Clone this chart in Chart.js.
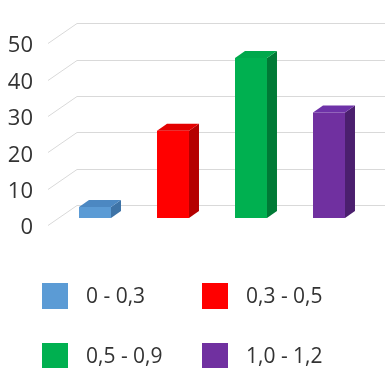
<!DOCTYPE html>
<html>
<head>
<meta charset="utf-8">
<script src="https://cdn.jsdelivr.net/npm/chart.js@4/dist/chart.umd.min.js"></script>
<style>
  html, body { margin: 0; padding: 0; background: #fff; overflow: hidden; }
  canvas { display: block; }
</style>
</head>
<body>
<canvas id="c" width="385" height="368"></canvas>
<script>
// Counts per class interval
const categories = ['0 - 0,3', '0,3 - 0,5', '0,5 - 0,9', '1,0 - 1,2'];
const counts = [3, 24, 44, 29];
const yTicks = [0, 10, 20, 30, 40, 50];

// Face colours of each column (front / right side / top)
const frontColors = ['#5b9bd5', '#ff0000', '#00b050', '#7030a0'];
const sideColors  = ['#3e73a6', '#b50000', '#007a36', '#4b1f6e'];
const topColors   = ['#4c88c2', '#e30000', '#00a84c', '#6e32a8'];

const TEXT_COLOR = '#333333';
const FONT_FAMILY = '"Open Sans", "DejaVu Sans", sans-serif';

// Oblique projection offsets (pixels)
const DEPTH = { x: 10, y: -7 };   // column depth
const WALL  = { x: 21, y: -13 };  // back wall, relative to the column front plane
const EDGE  = { x: -8, y: 7 };    // front edge of the side wall

// Back wall and side wall grid lines, drawn behind the columns
const wallGrid = {
  id: 'wallGrid',
  beforeDatasetsDraw(chart) {
    const { ctx, chartArea, scales: { y } } = chart;
    ctx.save();
    ctx.strokeStyle = '#d9d9d9';
    ctx.lineWidth = 1;
    yTicks.forEach(v => {
      const py = Math.round(y.getPixelForValue(v)) + 0.5;
      ctx.beginPath();
      ctx.moveTo(chartArea.left + EDGE.x, py + EDGE.y);
      ctx.lineTo(chartArea.left + WALL.x, py + WALL.y);
      ctx.lineTo(chart.width, py + WALL.y);
      ctx.stroke();
    });
    ctx.restore();
  }
};

// Side and top faces that give each column its depth
const columnDepth = {
  id: 'columnDepth',
  afterDatasetsDraw(chart) {
    const { ctx } = chart;
    const meta = chart.getDatasetMeta(0);
    ctx.save();
    meta.data.forEach((bar, i) => {
      const { x, y, base, width } = bar.getProps(['x', 'y', 'base', 'width'], true);
      const l = x - width / 2, r = x + width / 2;
      // right side
      ctx.fillStyle = sideColors[i];
      ctx.beginPath();
      ctx.moveTo(r, y);
      ctx.lineTo(r + DEPTH.x, y + DEPTH.y);
      ctx.lineTo(r + DEPTH.x, base + DEPTH.y);
      ctx.lineTo(r, base);
      ctx.closePath();
      ctx.fill();
      // top
      ctx.fillStyle = topColors[i];
      ctx.beginPath();
      ctx.moveTo(l, y);
      ctx.lineTo(l + DEPTH.x, y + DEPTH.y);
      ctx.lineTo(r + DEPTH.x, y + DEPTH.y);
      ctx.lineTo(r, y);
      ctx.closePath();
      ctx.fill();
    });
    ctx.restore();
  }
};

// Two-column legend below the plot
const gridLegend = {
  id: 'gridLegend',
  afterDraw(chart) {
    const { ctx } = chart;
    const box = 26, colStep = 160, rowStep = 60, x0 = 42, y0 = 283, gap = 18;
    ctx.save();
    ctx.font = '21px ' + FONT_FAMILY;
    ctx.textBaseline = 'middle';
    ctx.textAlign = 'left';
    categories.forEach((label, i) => {
      const bx = x0 + (i % 2) * colStep;
      const by = y0 + Math.floor(i / 2) * rowStep;
      ctx.fillStyle = frontColors[i];
      ctx.fillRect(bx, by, box, box);
      ctx.fillStyle = TEXT_COLOR;
      ctx.fillText(label, bx + box + gap, by + box / 2 + 1);
    });
    ctx.restore();
  }
};

new Chart(document.getElementById('c'), {
  type: 'bar',
  data: {
    labels: categories,
    datasets: [{
      data: counts,
      backgroundColor: frontColors,
      borderWidth: 0,
      barPercentage: 0.41,
      categoryPercentage: 1
    }]
  },
  options: {
    responsive: false,
    animation: false,
    layout: { padding: { top: 29, right: 17, bottom: 150, left: 0 } },
    plugins: { legend: { display: false }, tooltip: { enabled: false } },
    scales: {
      x: { display: false },
      y: {
        min: 0,
        max: 50,
        afterBuildTicks: s => { s.ticks = yTicks.map(v => ({ value: v })); },
        afterFit: s => { s.width = 56; },
        grid: { display: false, drawTicks: false },
        border: { display: false },
        ticks: {
          padding: 23,
          labelOffset: 10,
          color: TEXT_COLOR,
          font: { family: FONT_FAMILY, size: 22 }
        }
      }
    }
  },
  plugins: [wallGrid, columnDepth, gridLegend]
});
</script>
</body>
</html>
